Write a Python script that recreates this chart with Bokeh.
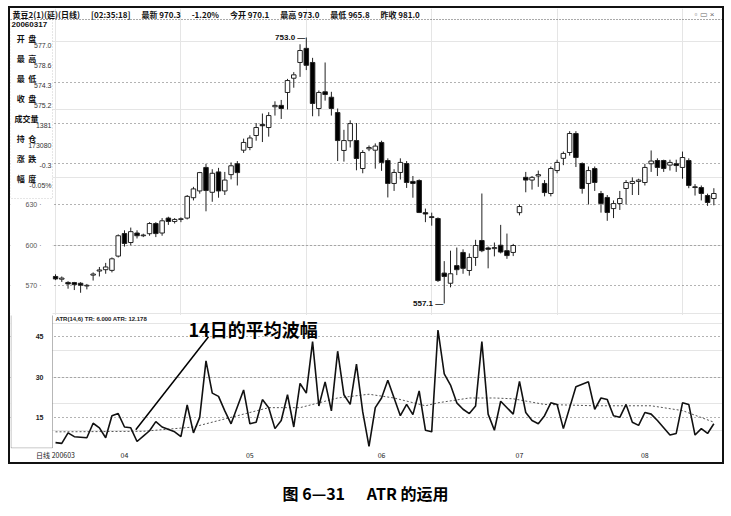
from bokeh.plotting import figure
from bokeh.layouts import column
from bokeh.models import (ColumnDataSource, FixedTicker, Label, Arrow, BoxAnnotation,
                          Range1d, Span, Grid)
from bokeh.embed import file_html
from bokeh.resources import INLINE

CJK = "Noto Sans CJK SC"
SP = "\u00a0"

# ---------------- data ----------------
opens = [577.0, 575.0, 572.6, 572.5, 572.0, 570.0, 578.0, 581.0, 582.0, 581.5,
         592.0, 608.6, 602.0, 609.0, 607.0, 608.5, 616.0, 609.0, 620.0, 617.5,
         619.0, 620.0, 635.0, 640.0, 657.3, 639.0, 654.0, 640.0, 652.0, 660.0,
         670.0, 672.0, 680.8, 689.0, 686.7, 702.0, 703.0, 712.5, 723.0, 734.6,
         745.0, 734.6, 700.7, 713.0, 709.0, 697.7, 669.8, 677.0, 677.1, 656.5,
         671.0, 670.0, 675.7, 662.4, 645.5, 653.6, 660.2, 647.0, 647.7, 624.0,
         621.0, 619.7, 579.5, 572.0, 585.0, 594.7, 581.4, 591.0, 603.5, 598.0,
         597.5, 600.0, 596.0, 594.7, 624.0, 650.0, 648.0, 651.0, 645.5, 638.1,
         655.0, 664.0, 668.3, 682.3, 660.2, 645.5, 656.5, 638.1, 635.2, 627.0,
         630.7, 641.8, 645.5, 647.0, 646.2, 660.0, 662.4, 662.4, 659.0, 660.0,
         657.3, 662.4, 643.0, 642.5, 636.6, 634.4]
highs = [578.6, 577.0, 573.5, 573.0, 572.8, 571.5, 580.0, 584.0, 587.0, 591.0,
         608.0, 611.0, 613.0, 611.0, 608.5, 617.0, 617.0, 620.0, 621.0, 620.0,
         620.5, 637.0, 643.0, 654.0, 660.0, 656.0, 657.0, 654.0, 661.0, 662.0,
         678.5, 681.0, 690.0, 697.0, 698.0, 706.0, 707.0, 722.5, 727.5, 748.0,
         753.0, 738.0, 714.0, 734.6, 713.0, 700.7, 685.0, 692.0, 690.0, 670.0,
         673.5, 675.0, 677.0, 664.0, 656.0, 664.0, 662.0, 651.0, 648.5, 627.0,
         624.0, 620.5, 588.3, 596.0, 598.3, 597.0, 594.0, 604.0, 638.1, 599.0,
         602.0, 615.0, 608.6, 601.0, 630.0, 654.0, 651.0, 655.0, 648.0, 658.0,
         663.0, 669.0, 684.0, 684.0, 661.0, 658.0, 658.0, 640.0, 637.0, 633.0,
         640.0, 648.0, 650.0, 649.0, 660.0, 669.8, 664.0, 663.0, 663.0, 663.0,
         669.0, 664.0, 645.0, 644.0, 638.0, 642.0]
lows = [574.3, 573.0, 568.0, 567.0, 565.0, 567.5, 574.0, 577.0, 579.0, 580.0,
        591.0, 599.0, 600.0, 605.0, 606.0, 607.0, 606.0, 607.0, 615.0, 616.0,
        617.0, 619.0, 633.0, 638.0, 625.0, 632.0, 635.0, 637.0, 648.5, 644.0,
        668.0, 670.0, 677.0, 676.0, 680.0, 695.5, 693.0, 700.0, 716.0, 724.0,
        729.0, 695.0, 695.0, 706.5, 695.5, 662.0, 661.6, 672.0, 655.2, 653.0,
        669.3, 656.4, 654.8, 635.2, 640.0, 648.4, 642.2, 635.0, 623.7, 617.0,
        614.4, 573.0, 557.1, 569.0, 578.0, 579.0, 577.6, 584.8, 594.9, 583.0,
        591.8, 594.0, 590.0, 592.0, 622.0, 639.0, 641.0, 643.0, 636.0, 636.0,
        653.0, 659.0, 666.0, 657.6, 638.0, 630.0, 640.0, 624.0, 618.0, 620.0,
        626.0, 630.0, 637.0, 637.0, 644.0, 654.0, 651.0, 654.0, 655.0, 654.0,
        649.0, 642.0, 636.6, 633.0, 629.0, 629.4]
closes = [575.2, 575.8, 571.5, 571.0, 570.6, 570.5, 578.8, 581.8, 584.0, 590.0,
          607.0, 601.3, 610.0, 607.0, 607.5, 616.0, 608.6, 618.0, 617.5, 619.0,
          619.5, 636.0, 641.5, 653.5, 640.3, 653.0, 640.0, 648.0, 658.5, 653.5,
          675.7, 679.0, 686.7, 688.0, 695.5, 703.0, 700.7, 721.3, 725.5, 743.4,
          732.5, 704.4, 712.5, 711.0, 700.7, 677.1, 677.1, 689.6, 663.9, 668.3,
          672.0, 673.0, 661.0, 645.5, 653.6, 661.0, 646.2, 645.5, 624.1, 623.0,
          620.4, 574.0, 577.0, 579.0, 582.0, 583.0, 591.0, 599.8, 596.0, 597.0,
          598.3, 595.0, 592.4, 599.8, 628.5, 648.0, 650.0, 652.0, 638.8, 656.5,
          661.0, 667.6, 682.3, 664.6, 641.8, 655.0, 646.2, 630.7, 624.1, 630.7,
          634.4, 646.2, 647.0, 648.0, 657.3, 662.0, 657.3, 656.5, 661.0, 658.7,
          664.6, 644.0, 642.5, 638.1, 631.5, 638.1]

# true range (solid line) - day index / value at the drawn vertices
tr_day = [0, 1, 2, 3, 5, 6, 7, 8, 9, 10, 11, 12, 13, 14, 15, 16, 17, 19, 20, 21,
          22, 23, 24, 25, 26, 27, 28, 30, 31, 32, 33, 34, 35, 36, 37, 38, 39, 40, 41, 42,
          43, 44, 45, 46, 47, 48, 49, 50, 51, 52, 53, 55, 56, 57, 58, 59, 60, 61, 62, 63,
          64, 65, 66, 67, 68, 69, 70, 71, 73, 74, 75, 76, 77, 78, 79, 80, 81, 83, 85, 86,
          87, 88, 89, 90, 91, 92, 93, 94, 95, 96, 98, 99, 100, 101, 102, 103, 104, 105]
tr_val = [5.6, 5.3, 9.2, 7.8, 7.4, 12.8, 11.1, 7.4, 15.6, 16.4, 11.4, 11.1, 6.0, 8.0, 10.0, 13.4, 11.4, 9.6, 7.8, 19.6,
          9.2, 15.0, 36.0, 24.0, 22.8, 17.4, 12.6, 25.2, 12.6, 13.2, 21.6, 18.6, 10.8, 13.8, 23.4, 11.4, 27.6, 24.0, 43.2, 19.2,
          28.2, 17.4, 39.6, 23.4, 19.8, 34.8, 17.0, 4.2, 18.6, 22.2, 28.8, 15.6, 19.8, 16.0, 24.8, 10.2, 9.6, 47.5, 31.2, 27.0,
          20.4, 18.0, 16.4, 19.2, 43.2, 16.2, 10.2, 21.0, 16.2, 28.4, 16.8, 13.8, 12.6, 15.6, 20.4, 19.8, 10.8, 26.4, 28.2, 18.0,
          22.2, 21.6, 15.6, 15.0, 19.8, 13.2, 12.0, 16.8, 16.2, 13.8, 8.4, 9.0, 20.4, 19.8, 8.4, 10.8, 9.0, 12.6]

# average true range (dotted line)
atr_day = [0, 14, 22, 29, 34, 39, 45, 50, 52, 54, 59, 61, 66, 70, 73, 78, 86, 95, 100, 105]
atr_val = [9.6, 9.8, 11.4, 15.6, 18.6, 18.6, 22.2, 23.6, 22.9, 22.2, 19.3, 20.4, 22.2, 22.2, 21.9, 19.8, 19.3, 19.3, 17.5, 13.2]

price_ticks = [570, 600, 630]
price_grid = [570, 600, 630, 660, 690, 720]
atr_ticks = [15, 30, 45]
month_days = [0, 11, 31, 52, 74, 94]
month_labels = ["日线 200603", "04", "05", "06", "07", "08"]

info_names = ["开" + SP * 2 + "盘", "最" + SP * 2 + "高", "最" + SP * 2 + "低", "收" + SP * 2 + "盘",
              "成交量", "持" + SP * 2 + "仓", "涨" + SP * 2 + "跌", "幅" + SP * 2 + "度"]
info_values = ["577.0", "578.6", "574.3", "575.2", "1381", "173080", "-0.3", "-0.05%"]

header_parts = ["黄豆2(1)(延)(日线)", "[02:35:18]", "最新 970.3", "-1.20%", "今开 970.1",
                "最高 973.0", "最低 965.8", "昨收 981.0"]
header_text = (SP * 6).join(header_parts)
atr_header = "ATR(14,6)  TR: 6.000  ATR: 12.178"
caption_text = "图 6—31" + SP * 6 + "ATR 的运用"

# ---------------- sources ----------------
days = list(range(len(opens)))
src = ColumnDataSource(dict(
    day=days, high=highs, low=lows,
    top=[max(o, c) for o, c in zip(opens, closes)],
    bottom=[min(o, c) for o, c in zip(opens, closes)],
    fill=["white" if c >= o else "black" for o, c in zip(opens, closes)],
))

xr = Range1d(-7.18, 106.38)

# ---------------- price panel ----------------
pp = figure(width=712, height=307, x_range=xr, y_range=Range1d(548.26, 774.35),
            output_backend="svg", toolbar_location=None,
            x_axis_location=None, y_axis_location=None,
            min_border_left=0, min_border_right=0, min_border_top=0, min_border_bottom=0)
pp.outline_line_color = None
pp.add_layout(Grid(dimension=1, ticker=FixedTicker(ticks=price_grid),
                   grid_line_color="#666666", grid_line_dash="1 3"))

pp.segment(x0="day", y0="low", x1="day", y1="high", source=src, line_color="#222222", line_width=1)
pp.vbar(x="day", top="top", bottom="bottom", width=0.72, source=src,
        fill_color="fill", line_color="#222222", line_width=1)

pp.add_layout(Label(x=40, y=753.0, text="753.0 —", text_align="right", text_baseline="middle",
                    x_offset=-1, text_font_size="8px", text_font_style="bold", text_color="#111111"))
pp.add_layout(Label(x=62, y=557.1, text="557.1 —", text_align="right", text_baseline="middle",
                    x_offset=-1, text_font_size="8px", text_font_style="bold", text_color="#111111"))

# left info column (screen units measured from the frame's left / bottom)
pp.add_layout(BoxAnnotation(left=0, right=42, bottom=0, top=296,
                            left_units="screen", right_units="screen",
                            bottom_units="screen", top_units="screen",
                            fill_color="white", fill_alpha=1, line_color=None))
pp.add_layout(BoxAnnotation(left=0, right=42, bottom=117, top=296,
                            left_units="screen", right_units="screen",
                            bottom_units="screen", top_units="screen",
                            fill_alpha=0, line_color="#555555", line_dash="1 2"))
for t in price_ticks:
    pp.add_layout(Label(x=31, y=t, x_units="screen", text=str(t) + " ·", text_align="right",
                        text_baseline="middle", text_font_size="7px", text_color="#555555"))
pp.add_layout(Label(x=2, y=301, x_units="screen", y_units="screen", text=header_text,
                    text_baseline="middle", text_font=CJK, text_font_size="8px",
                    text_font_style="bold", text_color="#111111"))
pp.add_layout(Label(x=684, y=301, x_units="screen", y_units="screen", text="▫ ▭ ×",
                    text_baseline="middle", text_font_size="8px", text_color="#666666"))
pp.add_layout(Span(location=296, location_units="screen", dimension="width",
                   line_color="#555555", line_dash="1 2"))
pp.add_layout(Label(x=1, y=291, x_units="screen", y_units="screen", text="20060317",
                    text_baseline="middle", text_font_size="8px", text_font_style="bold",
                    text_color="#111111"))
for k, (nm, vl) in enumerate(zip(info_names, info_values)):
    yname = 277 - 20 * k
    pp.add_layout(Label(x=16, y=yname, x_units="screen", y_units="screen", text=nm,
                        text_align="center", text_baseline="middle", text_font=CJK,
                        text_font_size="8px", text_font_style="bold", text_color="#111111"))
    pp.add_layout(Label(x=41, y=yname - 7, x_units="screen", y_units="screen", text=vl,
                        text_align="right", text_baseline="middle",
                        text_font_size="7px", text_color="#333333"))

# ---------------- ATR panel ----------------
pa = figure(width=712, height=147, x_range=xr, y_range=Range1d(3.4, 52.9),
            output_backend="svg", toolbar_location=None, y_axis_location=None,
            min_border_left=0, min_border_right=0, min_border_top=0, min_border_bottom=10)
pa.outline_line_color = None
pa.xgrid.visible = False
pa.add_layout(Grid(dimension=1, ticker=FixedTicker(ticks=atr_ticks),
                   grid_line_color="#666666", grid_line_dash="1 3"))
ax = pa.xaxis[0]
ax.ticker = FixedTicker(ticks=month_days)
ax.major_label_overrides = {d: t for d, t in zip(month_days, month_labels)}
ax.axis_line_color = None
ax.major_tick_in = 0
ax.major_tick_out = 0
ax.minor_tick_line_color = None
ax.major_label_standoff = 1
ax.major_label_text_font_size = "7px"
ax.major_label_text_font = CJK
ax.major_label_text_color = "#222222"

pa.line(x=atr_day, y=atr_val, line_color="#555555", line_width=1, line_dash="2 2")
pa.line(x=tr_day, y=tr_val, line_color="#111111", line_width=1.6)

pa.add_layout(Span(location=136.5, location_units="screen", dimension="width",
                   line_color="#444444", line_dash="2 1"))
pa.add_layout(BoxAnnotation(left=0.5, right=42, bottom=0.5, top=134,
                            left_units="screen", right_units="screen",
                            bottom_units="screen", top_units="screen",
                            fill_color="white", fill_alpha=1, line_color="#111111", line_width=1))
for t in atr_ticks:
    pa.add_layout(Label(x=33, y=t, x_units="screen", text=str(t), text_align="right",
                        text_baseline="middle", text_font_size="7px", text_font_style="bold",
                        text_color="#222222"))
pa.add_layout(Label(x=45, y=130, x_units="screen", y_units="screen", text=atr_header,
                    text_baseline="middle", text_font_size="6px", text_font_style="bold",
                    text_color="#222222"))
pa.add_layout(Label(x=21.2, y=48.0, text="14日的平均波幅", text_baseline="middle",
                    text_font=CJK, text_font_size="18px", text_font_style="bold",
                    text_color="#000000"))
pa.add_layout(Arrow(end=None, x_start=24.4, y_start=45.0, x_end=12.8, y_end=10.4,
                    line_color="#000000", line_width=1.5))

# ---------------- caption ----------------
pc = figure(width=716, height=44, output_backend="svg", toolbar_location=None,
            x_axis_location=None, y_axis_location=None,
            min_border_left=0, min_border_right=0, min_border_top=0, min_border_bottom=0)
pc.outline_line_color = None
pc.grid.visible = False
pc.add_layout(Label(x=357, y=16, x_units="screen", y_units="screen",
                    text=caption_text, text_align="center", text_baseline="middle",
                    text_font=CJK, text_font_size="16px", text_font_style="bold",
                    text_color="#000000"))

inner = column(pp, pa, styles={"border": "2px solid #111111"})
layout = column(inner, pc, margin=(6, 0, 0, 8))

open("out.html", "w").write(file_html(layout, INLINE))
